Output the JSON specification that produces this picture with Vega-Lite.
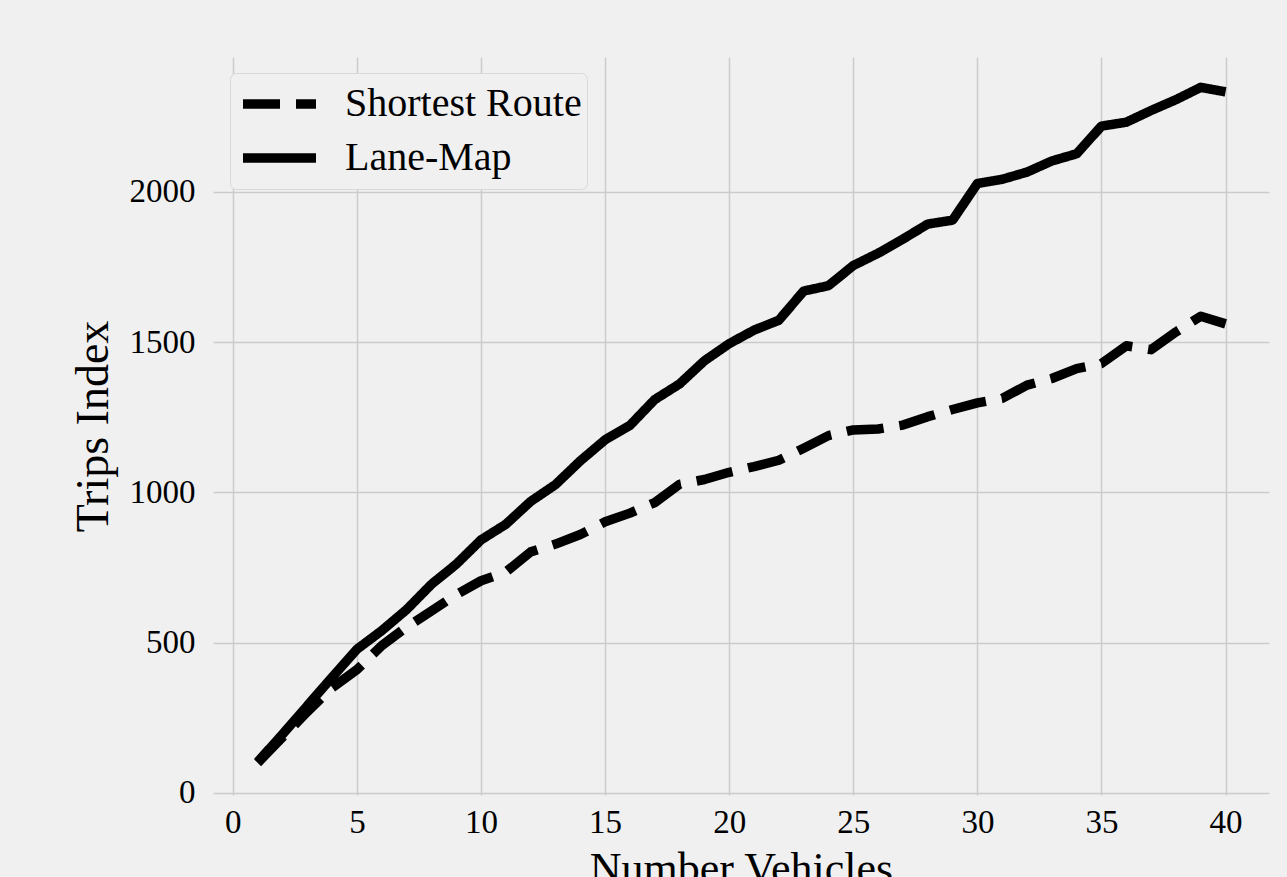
{
  "$schema": "https://vega.github.io/schema/vega-lite/v6.json",
  "width": 1056,
  "height": 738,
  "autosize": {"type": "none"},
  "padding": {"left": 213, "top": 57, "right": 18, "bottom": 82},
  "background": "#f0f0f0",
  "config": {
    "view": {"stroke": null},
    "font": "Liberation Serif",
    "axis": {
      "domain": false,
      "ticks": false,
      "grid": true,
      "gridColor": "#cbcbcb",
      "gridWidth": 1.5,
      "labelFont": "Liberation Serif",
      "labelColor": "#000000",
      "labelFontSize": 33,
      "titleFont": "Liberation Serif",
      "titleColor": "#000000",
      "titleFontWeight": "normal"
    },
    "legend": {
      "labelFont": "Liberation Serif",
      "labelColor": "#000000"
    }
  },
  "data": {
    "values": [
      {"vehicles": 1, "series": "Shortest Route", "trips": 100},
      {"vehicles": 2, "series": "Shortest Route", "trips": 185},
      {"vehicles": 3, "series": "Shortest Route", "trips": 270},
      {"vehicles": 4, "series": "Shortest Route", "trips": 350},
      {"vehicles": 5, "series": "Shortest Route", "trips": 410},
      {"vehicles": 6, "series": "Shortest Route", "trips": 490},
      {"vehicles": 7, "series": "Shortest Route", "trips": 552},
      {"vehicles": 8, "series": "Shortest Route", "trips": 605},
      {"vehicles": 9, "series": "Shortest Route", "trips": 660},
      {"vehicles": 10, "series": "Shortest Route", "trips": 706},
      {"vehicles": 11, "series": "Shortest Route", "trips": 735},
      {"vehicles": 12, "series": "Shortest Route", "trips": 802},
      {"vehicles": 13, "series": "Shortest Route", "trips": 828},
      {"vehicles": 14, "series": "Shortest Route", "trips": 860},
      {"vehicles": 15, "series": "Shortest Route", "trips": 902},
      {"vehicles": 16, "series": "Shortest Route", "trips": 931},
      {"vehicles": 17, "series": "Shortest Route", "trips": 966},
      {"vehicles": 18, "series": "Shortest Route", "trips": 1027},
      {"vehicles": 19, "series": "Shortest Route", "trips": 1043},
      {"vehicles": 20, "series": "Shortest Route", "trips": 1067},
      {"vehicles": 21, "series": "Shortest Route", "trips": 1086},
      {"vehicles": 22, "series": "Shortest Route", "trips": 1107},
      {"vehicles": 23, "series": "Shortest Route", "trips": 1147},
      {"vehicles": 24, "series": "Shortest Route", "trips": 1189},
      {"vehicles": 25, "series": "Shortest Route", "trips": 1208},
      {"vehicles": 26, "series": "Shortest Route", "trips": 1211},
      {"vehicles": 27, "series": "Shortest Route", "trips": 1224},
      {"vehicles": 28, "series": "Shortest Route", "trips": 1252},
      {"vehicles": 29, "series": "Shortest Route", "trips": 1276},
      {"vehicles": 30, "series": "Shortest Route", "trips": 1298},
      {"vehicles": 31, "series": "Shortest Route", "trips": 1313},
      {"vehicles": 32, "series": "Shortest Route", "trips": 1357},
      {"vehicles": 33, "series": "Shortest Route", "trips": 1379},
      {"vehicles": 34, "series": "Shortest Route", "trips": 1412},
      {"vehicles": 35, "series": "Shortest Route", "trips": 1429},
      {"vehicles": 36, "series": "Shortest Route", "trips": 1488},
      {"vehicles": 37, "series": "Shortest Route", "trips": 1475},
      {"vehicles": 38, "series": "Shortest Route", "trips": 1534},
      {"vehicles": 39, "series": "Shortest Route", "trips": 1586},
      {"vehicles": 40, "series": "Shortest Route", "trips": 1561},
      {"vehicles": 1, "series": "Lane-Map", "trips": 103},
      {"vehicles": 2, "series": "Lane-Map", "trips": 195},
      {"vehicles": 3, "series": "Lane-Map", "trips": 290},
      {"vehicles": 4, "series": "Lane-Map", "trips": 385},
      {"vehicles": 5, "series": "Lane-Map", "trips": 478},
      {"vehicles": 6, "series": "Lane-Map", "trips": 540},
      {"vehicles": 7, "series": "Lane-Map", "trips": 610},
      {"vehicles": 8, "series": "Lane-Map", "trips": 694},
      {"vehicles": 9, "series": "Lane-Map", "trips": 761},
      {"vehicles": 10, "series": "Lane-Map", "trips": 842},
      {"vehicles": 11, "series": "Lane-Map", "trips": 894},
      {"vehicles": 12, "series": "Lane-Map", "trips": 970},
      {"vehicles": 13, "series": "Lane-Map", "trips": 1026},
      {"vehicles": 14, "series": "Lane-Map", "trips": 1105},
      {"vehicles": 15, "series": "Lane-Map", "trips": 1175},
      {"vehicles": 16, "series": "Lane-Map", "trips": 1223},
      {"vehicles": 17, "series": "Lane-Map", "trips": 1309},
      {"vehicles": 18, "series": "Lane-Map", "trips": 1361},
      {"vehicles": 19, "series": "Lane-Map", "trips": 1438},
      {"vehicles": 20, "series": "Lane-Map", "trips": 1495},
      {"vehicles": 21, "series": "Lane-Map", "trips": 1540},
      {"vehicles": 22, "series": "Lane-Map", "trips": 1573},
      {"vehicles": 23, "series": "Lane-Map", "trips": 1670},
      {"vehicles": 24, "series": "Lane-Map", "trips": 1688},
      {"vehicles": 25, "series": "Lane-Map", "trips": 1755},
      {"vehicles": 26, "series": "Lane-Map", "trips": 1796},
      {"vehicles": 27, "series": "Lane-Map", "trips": 1843},
      {"vehicles": 28, "series": "Lane-Map", "trips": 1893},
      {"vehicles": 29, "series": "Lane-Map", "trips": 1906},
      {"vehicles": 30, "series": "Lane-Map", "trips": 2028},
      {"vehicles": 31, "series": "Lane-Map", "trips": 2042},
      {"vehicles": 32, "series": "Lane-Map", "trips": 2066},
      {"vehicles": 33, "series": "Lane-Map", "trips": 2103},
      {"vehicles": 34, "series": "Lane-Map", "trips": 2127},
      {"vehicles": 35, "series": "Lane-Map", "trips": 2219},
      {"vehicles": 36, "series": "Lane-Map", "trips": 2232},
      {"vehicles": 37, "series": "Lane-Map", "trips": 2271},
      {"vehicles": 38, "series": "Lane-Map", "trips": 2307},
      {"vehicles": 39, "series": "Lane-Map", "trips": 2348},
      {"vehicles": 40, "series": "Lane-Map", "trips": 2333}
    ]
  },
  "mark": {"type": "line", "strokeWidth": 9.5, "color": "#000000", "strokeJoin": "round", "strokeCap": "butt"},
  "encoding": {
    "x": {
      "field": "vehicles",
      "type": "quantitative",
      "scale": {"domain": [-0.8, 41.75], "nice": false, "zero": false},
      "axis": {
        "values": [0, 5, 10, 15, 20, 25, 30, 35, 40],
        "format": "d",
        "title": "Number Vehicles",
        "titleFontSize": 44,
        "labelPadding": 11,
        "titlePadding": 8
      }
    },
    "y": {
      "field": "trips",
      "type": "quantitative",
      "scale": {"domain": [-7, 2449], "nice": false, "zero": false},
      "axis": {
        "values": [0, 500, 1000, 1500, 2000],
        "format": "d",
        "title": "Trips Index",
        "titleFontSize": 46,
        "labelPadding": 18,
        "titlePadding": 12
      }
    },
    "strokeDash": {
      "field": "series",
      "type": "nominal",
      "scale": {"domain": ["Shortest Route", "Lane-Map"], "range": [[37, 16], [1, 0]]},
      "legend": {
        "title": null,
        "orient": "none",
        "legendX": 17,
        "legendY": 16,
        "symbolType": "stroke",
        "symbolSize": 5329,
        "symbolStrokeWidth": 9.5,
        "symbolStrokeColor": "#000000",
        "labelFontSize": 40,
        "labelLimit": 0,
        "labelOffset": 24,
        "clipHeight": 52,
        "rowPadding": 2,
        "padding": 5,
        "symbolOffset": 3,
        "fillColor": "#f0f0f0",
        "strokeColor": "#d8d8d8",
        "cornerRadius": 6
      }
    }
  }
}
